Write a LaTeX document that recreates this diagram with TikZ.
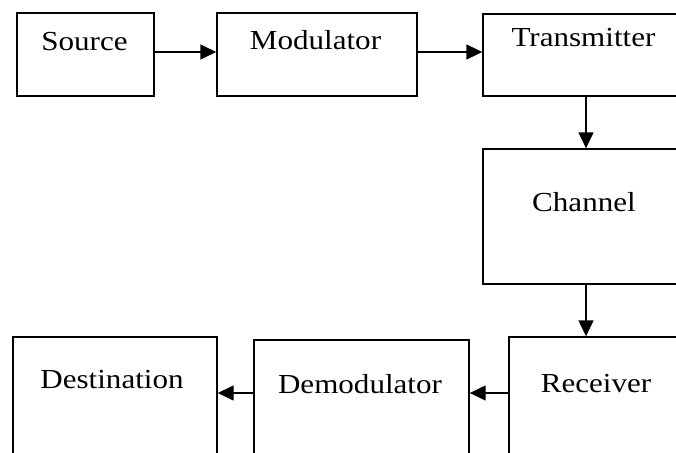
\documentclass[tikz,border=0pt]{standalone}
\usepackage{fontspec}
\setmainfont{Liberation Serif}
\usetikzlibrary{arrows.meta}
\tikzset{
  box/.style={draw=black, line width=1.4pt, rectangle, inner sep=0pt},
  lbl/.style={anchor=base, inner sep=0pt, font=\fontsize{27.5}{30}\selectfont, xscale=1.13},
  arr/.style={line width=1.4pt, -{Triangle[length=16pt,width=15pt]}}
}
\begin{document}
\begin{tikzpicture}[x=1pt,y=-1pt]
\useasboundingbox (0,0) rectangle (676,452);
\clip (0,0) rectangle (676,452);
% boxes
\node[box, minimum width=137pt, minimum height=83pt] (src) at (85.5,54.5) {};
\node[box, minimum width=200pt, minimum height=83pt] (mod) at (317,54.5) {};
\node[box, minimum width=206pt, minimum height=82pt] (tra) at (586,55) {};
\node[box, minimum width=206pt, minimum height=135pt] (cha) at (586,216.5) {};
\node[box, minimum width=200pt, minimum height=140pt] (rec) at (609,407) {};
\node[box, minimum width=215pt, minimum height=140pt] (dem) at (361.5,410) {};
\node[box, minimum width=204pt, minimum height=140pt] (dst) at (115,407) {};
% labels
\node[lbl] (tsrc) at (84.5,50) {Source};
\node[lbl] (tmod) at (315.5,49) {Modulator};
\node[lbl] (ttra) at (583.5,47) {Transmitter};
\node[lbl] (tcha) at (584,211) {Channel};
\node[lbl] (trec) at (596,392) {Receiver};
\node[lbl] (tdem) at (360,393) {Demodulator};
\node[lbl] (tdst) at (112,388) {Destination};
% connectors
\coordinate (ytop) at (0,52);
\coordinate (ybot) at (0,393);
\draw[arr] (src.east |- ytop) -- (mod.west |- ytop);
\draw[arr] (mod.east |- ytop) -- (tra.west |- ytop);
\draw[arr] (tra.south) -- (cha.north);
\draw[arr] (cha.south) -- (cha.south |- rec.north);
\draw[arr] (rec.west |- ybot) -- (dem.east |- ybot);
\draw[arr] (dem.west |- ybot) -- (dst.east |- ybot);
\end{tikzpicture}
\end{document}
